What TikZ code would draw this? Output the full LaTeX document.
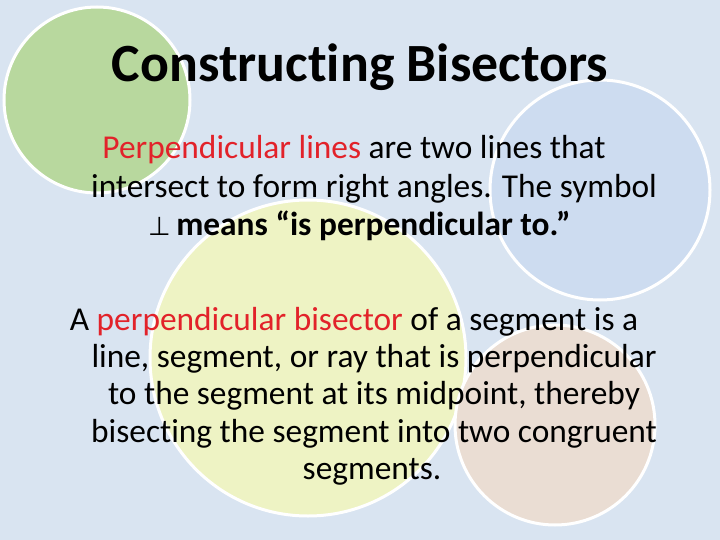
\documentclass[tikz,border=0pt]{standalone}
\usepackage{fontspec}
\setmainfont[Ligatures={NoCommon,NoDiscretionary,NoRare}]{Carlito}
\newfontfamily\symf{DejaVu Sans}
\definecolor{bg}{HTML}{D9E4F1}
\definecolor{cg}{HTML}{B8D89E}
\definecolor{cb}{HTML}{CDDCF0}
\definecolor{cy}{HTML}{EEF3C4}
\definecolor{ct}{HTML}{EADDD3}
\definecolor{rd}{HTML}{E2222A}
\tikzset{circ/.style={draw=white,line width=3bp},
 body/.style={font=\fontsize{33.5}{38}\selectfont,anchor=base,inner sep=0},
 ttl/.style={font=\bfseries\fontsize{54}{60}\selectfont,anchor=base,inner sep=0}}
\begin{document}
\begin{tikzpicture}[x=1bp,y=-1bp]
\fill[bg] (0,0) rectangle (720,540);
\useasboundingbox (0,0) rectangle (720,540);
\path[circ,fill=cg] (97,100) circle[radius=93];
\path[circ,fill=cb] (600,190) circle[radius=110];
\path[circ,fill=cy] (308,358) circle[radius=158];
\path[circ,fill=ct] (555,425) circle[radius=100];
\node[ttl] (t) at (360,82) {Constructing Bisectors};
\node[body] (l1) at (354,159) {\textcolor{rd}{Perpendicular lines} are two lines that};
\node[body] (l2) at (374,198) {intersect to form right angles. The symbol};
\node[body,anchor=base west] (l3) at (148,236) {{\symf\fontsize{26}{30}\selectfont ⊥}\,\bfseries means “is perpendicular to.”};
\node[body] (l4) at (354,330) {A \textcolor{rd}{perpendicular bisector} of a segment is a};
\node[body] (l5) at (374,367) {line, segment, or ray that is perpendicular};
\node[body] (l6) at (374,404) {to the segment at its midpoint, thereby};
\node[body] (l7) at (374,442) {bisecting the segment into two congruent};
\node[body] (l8) at (372,479) {segments.};
\end{tikzpicture}
\end{document}
